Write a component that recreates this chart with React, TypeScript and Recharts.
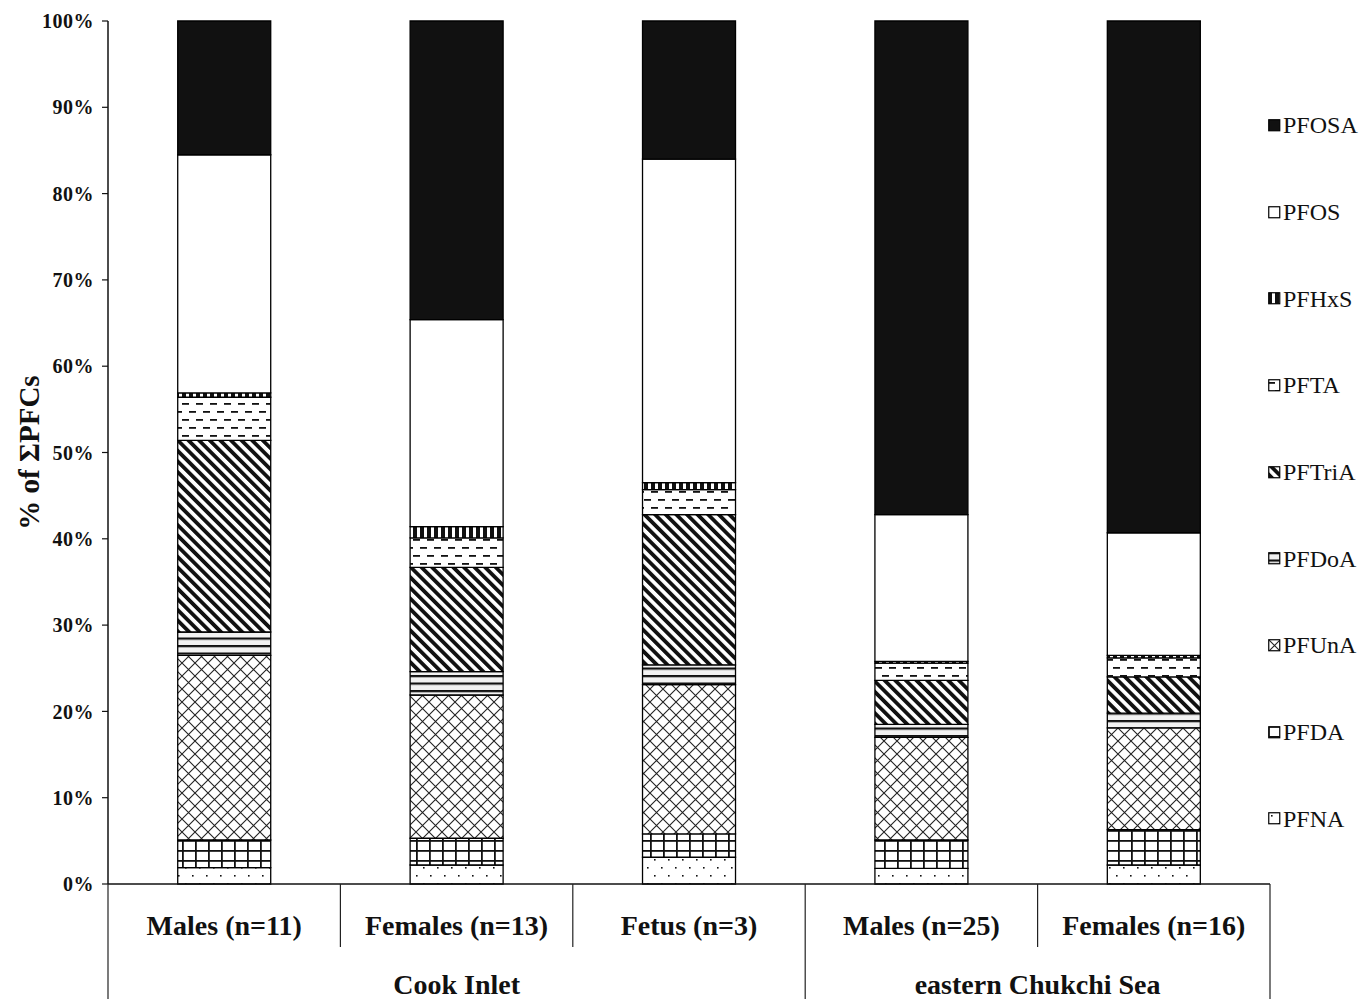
import React from 'react';
import { BarChart, Bar, XAxis, YAxis, Legend } from 'recharts';

const categories = ['Males (n=11)', 'Females (n=13)', 'Fetus (n=3)', 'Males (n=25)', 'Females (n=16)'];
const groupNames = ['Cook Inlet', 'eastern Chukchi Sea'];
const groupSpans = [3, 2];
const seriesKeys = ['PFNA', 'PFDA', 'PFUnA', 'PFDoA', 'PFTriA', 'PFTA', 'PFHxS', 'PFOS', 'PFOSA'];

const PFNA = [1.9, 2.2, 3.1, 1.8, 2.2];
const PFDA = [3.2, 3.1, 2.7, 3.3, 4.1];
const PFUnA = [21.4, 16.6, 17.3, 11.9, 11.8];
const PFDoA = [2.7, 2.7, 2.3, 1.5, 1.7];
const PFTriA = [22.2, 12.1, 17.4, 5.1, 4.2];
const PFTA = [5.0, 3.4, 2.9, 2.0, 2.2];
const PFHxS = [0.5, 1.3, 0.8, 0.2, 0.3];
const PFOS = [27.6, 24.0, 37.5, 17.0, 14.2];
const PFOSA = [15.5, 34.6, 16.0, 57.2, 59.3];

const yTicks = [0, 10, 20, 30, 40, 50, 60, 70, 80, 90, 100];

const seriesValues: Record<string, number[]> = { PFNA, PFDA, PFUnA, PFDoA, PFTriA, PFTA, PFHxS, PFOS, PFOSA };

const data = categories.map((name, i) => {
  const row: Record<string, any> = { name };
  seriesKeys.forEach((k) => { row[k] = seriesValues[k][i]; });
  return row;
});

const FONT = "'Liberation Serif', 'Times New Roman', serif";
const W = 1362;
const H = 999;
const M = { top: 21, right: 92, bottom: 0, left: 0 };
const Y_W = 108;
const X_H = 115;
const BAND = (W - M.left - M.right - Y_W) / categories.length;

const groupOf = (i: number) => {
  let acc = 0;
  for (let g = 0; g < groupSpans.length; g++) {
    if (i < acc + groupSpans[g]) return { g, start: acc, end: acc + groupSpans[g] - 1 };
    acc += groupSpans[g];
  }
  return { g: 0, start: 0, end: 0 };
};

const XTick = (props: any) => {
  const { x, y, payload, index } = props;
  const { g, start, end } = groupOf(index);
  const els: any[] = [];
  els.push(
    <text key="t" x={x} y={y + 51} textAnchor="middle" fontFamily={FONT} fontWeight="bold" fontSize={28} fill="#111">
      {payload.value}
    </text>
  );
  if (index === 0) {
    els.push(<line key="l0" x1={x - BAND / 2} x2={x - BAND / 2} y1={y} y2={y + 115} stroke="#222" strokeWidth={1.2} />);
  }
  const isEnd = index === end;
  els.push(
    <line key="lr" x1={x + BAND / 2} x2={x + BAND / 2} y1={y} y2={isEnd ? y + 115 : y + 63} stroke="#222" strokeWidth={1.2} />
  );
  const span = end - start + 1;
  const mid = (span - 1) / 2;
  const centreIdx = start + Math.floor(mid);
  if (index === centreIdx) {
    const gx = x + (mid - Math.floor(mid)) * BAND;
    els.push(
      <text key="g" x={gx} y={y + 110} textAnchor="middle" fontFamily={FONT} fontWeight="bold" fontSize={28} fill="#111">
        {groupNames[g]}
      </text>
    );
  }
  return <g>{els}</g>;
};

const YLabel = (props: any) => {
  const vb = props.viewBox || { x: 0, y: 21, width: 108, height: 863 };
  const cx = vb.x + 29;
  const cy = vb.y + vb.height / 2;
  return (
    <text x={cx} y={cy} textAnchor="middle" dominantBaseline="central" transform={`rotate(-90, ${cx}, ${cy})`}
      fontFamily={FONT} fontWeight="bold" fontSize={29} fill="#111">
      % of ΣPFCs
    </text>
  );
};

const renderLegend = () => {
  const items = [...seriesKeys].reverse();
  return (
    <div style={{ fontFamily: FONT }}>
      {items.map((k) => (
        <div key={k} style={{ height: 86.7, display: 'flex', alignItems: 'center' }}>
          <svg width={13} height={13} style={{ display: 'block' }}>
            <rect x={0.75} y={0.75} width={11} height={11} fill={`url(#p-${k})`} stroke="#000" strokeWidth={1.2} />
          </svg>
          <span style={{ fontSize: 24, color: '#111', marginLeft: 2, lineHeight: 1 }}>{k}</span>
        </div>
      ))}
    </div>
  );
};

export default function App() {
  return (
    <div style={{ position: 'absolute', left: 0, top: 0, width: W, height: H, background: '#fff' }}>
      <BarChart width={W} height={H} data={data} margin={M} barCategoryGap="30%">
        <defs>
          <pattern id="p-PFNA" width="14" height="16" patternUnits="userSpaceOnUse">
            <rect width="14" height="16" fill="#fff" />
            <rect x="3" y="3" width="1.6" height="1.6" fill="#111" />
            <rect x="10" y="11" width="1.6" height="1.6" fill="#111" />
          </pattern>
          <pattern id="p-PFDA" width="13" height="10" patternUnits="userSpaceOnUse">
            <rect width="13" height="10" fill="#fff" />
            <rect x="0" y="0" width="1.8" height="10" fill="#111" />
            <rect x="0" y="0" width="13" height="1.8" fill="#111" />
          </pattern>
          <pattern id="p-PFUnA" width="13" height="13" patternUnits="userSpaceOnUse">
            <rect width="13" height="13" fill="#fff" />
            <path d="M0,0 L13,13 M13,0 L0,13" stroke="#222" strokeWidth="1.1" />
          </pattern>
          <pattern id="p-PFDoA" width="8" height="7.5" patternUnits="userSpaceOnUse">
            <rect width="8" height="7.5" fill="#f2f2f2" />
            <rect x="0" y="0" width="8" height="2.2" fill="#111" />
          </pattern>
          <pattern id="p-PFTriA" width="7.5" height="10" patternUnits="userSpaceOnUse" patternTransform="rotate(-45)">
            <rect width="7.5" height="10" fill="#fff" />
            <rect x="0" y="0" width="3.8" height="10" fill="#111" />
          </pattern>
          <pattern id="p-PFTA" width="14" height="16" patternUnits="userSpaceOnUse">
            <rect width="14" height="16" fill="#fff" />
            <rect x="0" y="3" width="7" height="1.8" fill="#111" />
            <rect x="7" y="11" width="7" height="1.8" fill="#111" />
          </pattern>
          <pattern id="p-PFHxS" width="7" height="10" patternUnits="userSpaceOnUse">
            <rect width="7" height="10" fill="#fff" />
            <rect x="0" y="0" width="4" height="10" fill="#111" />
          </pattern>
          <pattern id="p-PFOS" width="10" height="10" patternUnits="userSpaceOnUse">
            <rect width="10" height="10" fill="#fff" />
          </pattern>
          <pattern id="p-PFOSA" width="10" height="10" patternUnits="userSpaceOnUse">
            <rect width="10" height="10" fill="#111" />
          </pattern>
        </defs>
        <XAxis
          dataKey="name"
          height={X_H}
          interval={0}
          tickLine={false}
          tickSize={0}
          tickMargin={0}
          axisLine={{ stroke: '#111', strokeWidth: 1.5 }}
          tick={<XTick />}
        />
        <YAxis
          width={Y_W}
          domain={[0, 100]}
          ticks={yTicks}
          interval={0}
          tickFormatter={(v: number) => `${v}%`}
          tickSize={6}
          tickMargin={8}
          axisLine={{ stroke: '#111', strokeWidth: 1.5 }}
          tickLine={{ stroke: '#111', strokeWidth: 1.2 }}
          tick={{ fontFamily: FONT, fontWeight: 'bold', fontSize: 20, fill: '#111', letterSpacing: 0.5 }}
          label={<YLabel />}
        />
        <Legend
          layout="vertical"
          align="center"
          verticalAlign="middle"
          wrapperStyle={{ left: 1268, top: 82, width: 94 }}
          content={renderLegend}
        />
        {seriesKeys.map((k) => (
          <Bar key={k} dataKey={k} stackId="s" fill={`url(#p-${k})`} stroke="#000" strokeWidth={1.3} isAnimationActive={false} />
        ))}
      </BarChart>
    </div>
  );
}
